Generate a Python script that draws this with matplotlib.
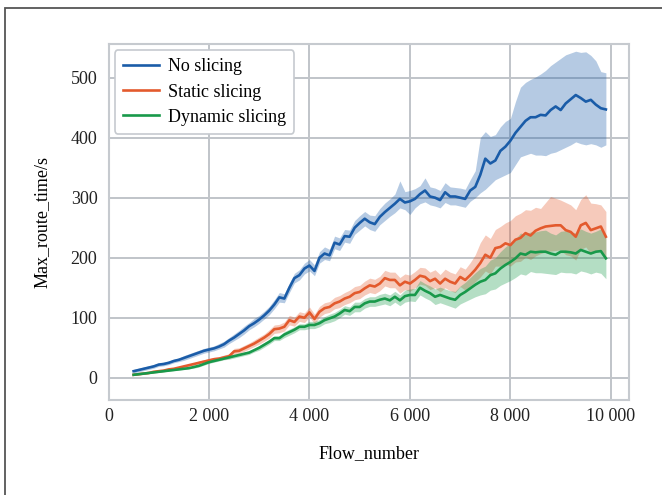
import matplotlib
matplotlib.use('Agg')
import matplotlib.pyplot as plt
from matplotlib.patches import Rectangle
from matplotlib.ticker import FuncFormatter
import numpy as np

# flow numbers 500 .. 9900, step 100
flow = list(range(500, 10000, 100))

no_mean = [11, 13, 15, 17, 19, 22, 23, 25, 28, 30, 33, 36, 39, 42, 45, 47, 49, 52, 56, 62,
           67, 73, 79, 86, 91, 97, 104, 112, 122, 134, 132, 150, 166, 171, 182, 187, 178, 200, 207, 204,
           225, 222, 236, 235, 250, 258, 265, 259, 256, 268, 276, 283, 290, 298, 292, 294, 298, 306, 312, 302,
           300, 296, 309, 302, 302, 300, 298, 312, 318, 338, 365, 357, 362, 378, 385, 395, 408, 418, 428, 434,
           434, 438, 437, 446, 452, 446, 457, 464, 471, 466, 460, 463, 455, 449, 447]
no_lo = [8, 10, 12, 14, 16, 19, 20, 22, 25, 27, 29, 32, 35, 38, 41, 43, 45, 48, 51, 57,
         62, 67, 73, 80, 85, 91, 98, 105, 115, 126, 125, 142, 158, 163, 173, 178, 170, 191, 197, 195,
         215, 212, 226, 224, 239, 246, 253, 247, 244, 255, 262, 269, 275, 283, 280, 272, 283, 290, 293, 288,
         286, 283, 292, 288, 288, 286, 284, 294, 300, 308, 314, 322, 330, 334, 338, 342, 355, 368, 371, 374,
         371, 371, 370, 374, 376, 380, 384, 388, 393, 390, 388, 390, 388, 384, 388]
no_hi = [14, 16, 18, 20, 22, 25, 26, 28, 31, 33, 37, 40, 43, 46, 49, 51, 53, 57, 61, 67,
         73, 79, 86, 92, 99, 104, 111, 119, 130, 142, 140, 158, 174, 180, 191, 197, 188, 210, 218, 214,
         236, 233, 247, 246, 262, 270, 277, 271, 270, 282, 291, 298, 306, 328, 310, 312, 315, 320, 333, 318,
         316, 312, 325, 318, 317, 316, 314, 330, 345, 400, 410, 402, 405, 418, 427, 432, 460, 484, 492, 497,
         501, 506, 512, 520, 526, 532, 538, 541, 544, 542, 543, 537, 528, 510, 508]

static_mean = [5, 6, 7, 8, 10, 11, 12, 14, 15, 17, 19, 21, 23, 25, 27, 29, 31, 32, 34, 36,
               44, 45, 49, 53, 57, 62, 67, 73, 81, 82, 85, 96, 93, 102, 100, 109, 98, 110, 116, 118,
               124, 127, 132, 135, 141, 143, 149, 154, 152, 157, 166, 163, 163, 154, 160, 157, 163, 170, 168, 161,
               165, 157, 165, 160, 157, 168, 163, 171, 180, 191, 205, 200, 216, 218, 224, 221, 230, 233, 241, 237,
               245, 249, 252, 253, 254, 254, 246, 243, 235, 254, 258, 246, 249, 252, 235]
static_lo = [4, 5, 6, 7, 8, 9, 10, 12, 13, 15, 17, 19, 21, 23, 24, 26, 28, 29, 31, 32,
             39, 41, 44, 48, 52, 56, 61, 66, 74, 75, 78, 88, 86, 94, 92, 101, 90, 101, 107, 109,
             115, 117, 122, 125, 130, 132, 138, 142, 140, 145, 153, 150, 150, 141, 147, 144, 150, 156, 154, 147,
             150, 143, 150, 145, 142, 152, 146, 153, 160, 168, 178, 173, 186, 186, 190, 186, 193, 194, 201, 197,
             203, 207, 210, 211, 212, 213, 205, 203, 196, 214, 218, 207, 210, 213, 198]
static_hi = [6, 7, 8, 9, 12, 13, 14, 16, 17, 19, 21, 23, 25, 28, 30, 32, 34, 35, 38, 40,
             49, 50, 54, 58, 63, 68, 73, 80, 88, 89, 93, 104, 101, 110, 108, 118, 106, 119, 125, 127,
             134, 137, 142, 146, 152, 154, 161, 166, 164, 169, 179, 176, 176, 167, 173, 171, 177, 184, 183, 176,
             180, 172, 181, 176, 173, 185, 181, 192, 205, 225, 238, 232, 247, 252, 258, 262, 270, 274, 280, 279,
             284, 282, 292, 302, 299, 296, 292, 288, 280, 297, 305, 291, 290, 288, 277]

dyn_mean = [5, 6, 7, 8, 9, 10, 11, 12, 13, 14, 15, 16, 18, 20, 23, 26, 28, 30, 32, 34,
            36, 38, 40, 42, 46, 50, 55, 60, 66, 66, 72, 76, 80, 85, 85, 88, 88, 91, 96, 99,
            102, 107, 113, 111, 118, 118, 124, 127, 127, 130, 132, 129, 135, 129, 136, 138, 138, 150, 145, 141,
            135, 138, 135, 132, 130, 138, 143, 149, 155, 160, 163, 171, 174, 182, 188, 193, 199, 207, 205, 210,
            209, 210, 210, 207, 205, 210, 210, 209, 207, 213, 210, 207, 210, 211, 199]
dyn_lo = [4, 5, 6, 7, 8, 9, 10, 11, 12, 13, 14, 15, 16, 18, 21, 24, 26, 28, 30, 31,
          33, 35, 37, 39, 43, 46, 51, 56, 62, 62, 67, 71, 75, 80, 80, 82, 82, 85, 90, 92,
          95, 100, 106, 104, 110, 110, 116, 119, 119, 121, 123, 120, 126, 120, 126, 128, 127, 138, 133, 129,
          122, 125, 122, 119, 116, 123, 127, 131, 135, 138, 140, 146, 148, 154, 158, 162, 167, 173, 171, 177,
          175, 175, 174, 173, 172, 176, 175, 175, 173, 178, 176, 173, 176, 174, 165]
dyn_hi = [6, 7, 8, 9, 10, 11, 12, 13, 14, 15, 16, 17, 20, 22, 25, 28, 30, 32, 34, 37,
          39, 41, 43, 45, 49, 54, 59, 64, 70, 70, 77, 81, 85, 90, 90, 94, 94, 97, 102, 106,
          109, 114, 120, 118, 126, 126, 132, 135, 135, 139, 141, 138, 144, 138, 146, 148, 149, 162, 157, 153,
          148, 151, 148, 145, 144, 153, 159, 167, 175, 182, 186, 196, 200, 210, 218, 224, 231, 241, 239, 243,
          243, 245, 246, 241, 238, 244, 245, 243, 241, 248, 244, 241, 244, 248, 233]

plt.rcParams['font.family'] = ['Liberation Serif', 'DejaVu Serif']
plt.rcParams['font.size'] = 13

fig = plt.figure(figsize=(6.62, 4.95), dpi=100)
ax = fig.add_axes([0.1639, 0.1919, 0.787, 0.7192])

series = [
    ('No slicing', no_mean, no_lo, no_hi, '#1a5ca8'),
    ('Static slicing', static_mean, static_lo, static_hi, '#e35a2d'),
    ('Dynamic slicing', dyn_mean, dyn_lo, dyn_hi, '#18994a'),
]
for name, m, lo, hi, c in series:
    ax.fill_between(flow, lo, hi, color=c, alpha=0.32, linewidth=0)
    ax.plot(flow, m, color=c, linewidth=1.9, label=name)

ax.set_xlim(0, 10370)
ax.set_ylim(-37, 556)
ax.set_xticks(np.arange(0, 10001, 2000))
ax.set_yticks(np.arange(0, 501, 100))
ax.xaxis.set_major_formatter(FuncFormatter(lambda v, p: f'{int(v):,}'.replace(',', ' ')))
ax.grid(True, color='#c0c4c9', linewidth=1.4)
ax.set_axisbelow(True)
ax.tick_params(length=0, pad=8, colors='#222222')
ax.tick_params(axis='x', pad=6)
for s in ax.spines.values():
    s.set_color('#c6cacf')
    s.set_linewidth(1.5)

ax.set_xlabel('Flow_number', labelpad=14)
ax.set_ylabel('Max_route_time/s', labelpad=14)

leg = ax.legend(loc='upper left', fontsize=13, frameon=True, fancybox=True,
                edgecolor='#c6cacf', framealpha=1, handlelength=2.0,
                handletextpad=0.5, borderpad=0.45, borderaxespad=0.35,
                labelspacing=0.45)
leg.get_frame().set_linewidth(1.2)

# outer frame of the figure panel
fig.patches.append(Rectangle((5 / 662, -0.1), 1.2, (495 - 8) / 495 + 0.1,
                             transform=fig.transFigure, fill=False,
                             edgecolor='#555555', linewidth=1.3))

fig.savefig('out.png', dpi=100)
